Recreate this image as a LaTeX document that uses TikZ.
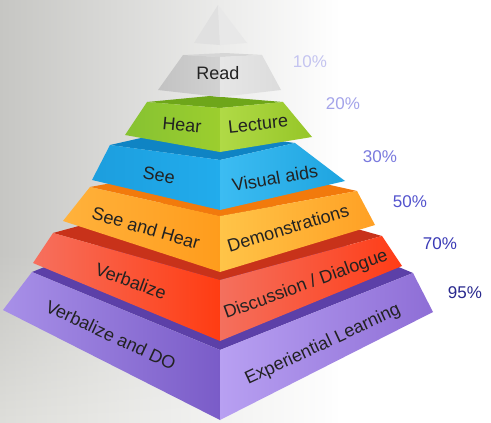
\documentclass[tikz,border=0pt]{standalone}
\usepackage{fontspec}
\setmainfont{Liberation Sans}
\usetikzlibrary{fadings}
\definecolor{bgl}{HTML}{C6C6C3}
\definecolor{bgbottom}{HTML}{DEDEDA}
\definecolor{labeltext}{HTML}{222222}
\definecolor{tipA}{HTML}{E0E0E0}
\definecolor{tipB}{HTML}{E8E8E8}
\definecolor{rdTop}{HTML}{D6D6D6}
\definecolor{rdLA}{HTML}{C2C2C2}
\definecolor{rdLB}{HTML}{D2D2D2}
\definecolor{rdRA}{HTML}{E6E6E6}
\definecolor{rdRB}{HTML}{DCDCDC}
\definecolor{grTop}{HTML}{6EA61A}
\definecolor{grLA}{HTML}{86C232}
\definecolor{grLB}{HTML}{9CCE2E}
\definecolor{grRA}{HTML}{B0DA46}
\definecolor{grRB}{HTML}{96C628}
\definecolor{blTop}{HTML}{0F84C4}
\definecolor{blLA}{HTML}{1C9EDE}
\definecolor{blLB}{HTML}{22ACEC}
\definecolor{blRA}{HTML}{3CBCF2}
\definecolor{blRB}{HTML}{1EA4E0}
\definecolor{orTop}{HTML}{F27A0C}
\definecolor{orLA}{HTML}{FFB23C}
\definecolor{orLB}{HTML}{FF9C1C}
\definecolor{orRA}{HTML}{FFC448}
\definecolor{orRB}{HTML}{FFA024}
\definecolor{reTop}{HTML}{C8321A}
\definecolor{reLA}{HTML}{F6705E}
\definecolor{reLB}{HTML}{FF3C12}
\definecolor{reRA}{HTML}{F4705E}
\definecolor{reRB}{HTML}{FF3C16}
\definecolor{puTop}{HTML}{5C40A8}
\definecolor{puLA}{HTML}{A890E8}
\definecolor{puLB}{HTML}{7A5CC8}
\definecolor{puRA}{HTML}{B8A0F2}
\definecolor{puRB}{HTML}{8E6ED6}
\definecolor{pA}{HTML}{C4C4F0}
\definecolor{pB}{HTML}{A4A4EA}
\definecolor{pC}{HTML}{7A7ADE}
\definecolor{pD}{HTML}{5454CE}
\definecolor{pE}{HTML}{3A3AB6}
\definecolor{pF}{HTML}{28288E}
\newcommand\pyrlayer[5]{%
  \fill[#1] (Lt) -- (Bt) -- (Rt) -- (Ct) -- cycle;
  \shade[left color=#2, right color=#3] (Lt) -- (Ct) -- (Cb) -- (Lb) -- cycle;
  \shade[left color=#4, right color=#5] (Ct) -- (Rt) -- (Rb) -- (Cb) -- cycle;
}
\begin{document}
\begin{tikzpicture}[x=1pt,y=-1pt,
  lbl/.style={font=\fontsize{18}{20}\selectfont, text=labeltext, inner sep=0pt},
  pct/.style={font=\fontsize{17}{19}\selectfont, inner sep=0pt}]
\useasboundingbox (0,0) rectangle (491,423);
\fill[white] (0,0) rectangle (491,423);
\shade[left color=bgl, right color=white] (0,0) rectangle (340,423);
\shade[left color=bgbottom, right color=white, path fading=north] (0,250) rectangle (340,423);
% tip
\fill[tipA] (218,5) -- (194,43) -- (220,45) -- cycle;
\fill[tipB] (218,5) -- (220,45) -- (247,43) -- cycle;
% purple
\coordinate (Lt) at (32,272); \coordinate (Rt) at (413,273); \coordinate (Ct) at (220,350);
\coordinate (Bt) at (225,195); \coordinate (Lb) at (3,310); \coordinate (Rb) at (433,312);
\coordinate (Cb) at (220,420);
\pyrlayer{puTop}{puLA}{puLB}{puRA}{puRB}
% red
\coordinate (Lt) at (53,233); \coordinate (Rt) at (382,236); \coordinate (Ct) at (220,280);
\coordinate (Bt) at (215,189); \coordinate (Lb) at (33,263); \coordinate (Rb) at (402,266);
\coordinate (Cb) at (220,341);
\pyrlayer{reTop}{reLA}{reLB}{reRA}{reRB}
% orange
\coordinate (Lt) at (90,187); \coordinate (Rt) at (357,191); \coordinate (Ct) at (220,216);
\coordinate (Bt) at (227,162); \coordinate (Lb) at (63,221); \coordinate (Rb) at (375,225);
\coordinate (Cb) at (220,272);
\pyrlayer{orTop}{orLA}{orLB}{orRA}{orRB}
% blue
\coordinate (Lt) at (110,145); \coordinate (Rt) at (295,143); \coordinate (Ct) at (220,160);
\coordinate (Bt) at (185,128); \coordinate (Lb) at (92,180); \coordinate (Rb) at (345,181);
\coordinate (Cb) at (220,210);
\pyrlayer{blTop}{blLA}{blLB}{blRA}{blRB}
% green
\coordinate (Lt) at (147,102); \coordinate (Rt) at (283,102); \coordinate (Ct) at (220,108);
\coordinate (Bt) at (210,96); \coordinate (Lb) at (125,135); \coordinate (Rb) at (312,137);
\coordinate (Cb) at (220,152);
\pyrlayer{grTop}{grLA}{grLB}{grRA}{grRB}
% read
\coordinate (Lt) at (183,55); \coordinate (Rt) at (262,55); \coordinate (Ct) at (220,57);
\coordinate (Bt) at (225,53); \coordinate (Lb) at (158,90); \coordinate (Rb) at (281,90);
\coordinate (Cb) at (220,97);
\pyrlayer{rdTop}{rdLA}{rdLB}{rdRA}{rdRB}
% labels
\node[lbl] (read) at (218,73) {Read};
\node[lbl, rotate=-5] (hear) at (182,125) {Hear};
\node[lbl, rotate=6] (lecture) at (258,124) {Lecture};
\node[lbl, rotate=-10] (see) at (159,175) {See};
\node[lbl, rotate=10] (visual) at (275,178) {Visual aids};
\node[lbl, rotate=-16] (seehear) at (146,228) {See and Hear};
\node[lbl, rotate=17] (demo) at (288,228) {Demonstrations};
\node[lbl, rotate=-20] (verb) at (131,281) {Verbalize};
\node[lbl, rotate=20] (disc) at (306,285) {Discussion / Dialogue};
\node[lbl, rotate=-25] (verbdo) at (111,335) {Verbalize and DO};
\node[lbl, rotate=25] (exp) at (323,345) {Experiential Learning};
% percentages
\node[pct, text=pA] (p10) at (310,62) {10\%};
\node[pct, text=pB] (p20) at (343,104) {20\%};
\node[pct, text=pC] (p30) at (380,157) {30\%};
\node[pct, text=pD] (p50) at (410,202) {50\%};
\node[pct, text=pE] (p70) at (440,244) {70\%};
\node[pct, text=pF] (p95) at (465,293) {95\%};
\end{tikzpicture}
\end{document}
